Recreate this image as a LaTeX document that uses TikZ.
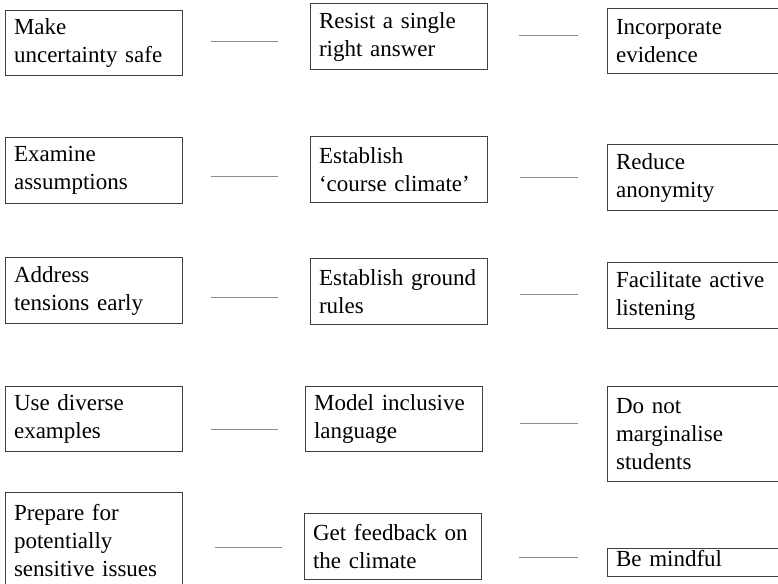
\documentclass[tikz,border=0pt]{standalone}
\usepackage{fontspec}
\setmainfont{Liberation Serif}
\usepackage{xcolor}
\usetikzlibrary{positioning}
\definecolor{BoxEdge}{HTML}{404040}
\definecolor{RuleGray}{HTML}{8C8C8C}

\begin{document}
\begin{tikzpicture}[x=1pt, y=-1pt,
  box/.style={draw=BoxEdge, line width=1.1pt, anchor=north west, align=left,
    text width=160pt, inner xsep=8.5pt, inner ysep=2pt, minimum height=#1,
    font=\fontsize{23}{28}\selectfont},
  box/.default=66pt,
  blank/.style={draw=RuleGray, line width=0.9pt}]
  \useasboundingbox (0,0) rectangle (778,583);
  \node[box=65pt] (safe)    at (5,10)  {Make\\uncertainty safe};
  \node[box]      (assume)  at (5,137) {Examine\\assumptions};
  \node[box]      (tension) at (5,257) {Address\\tensions early};
  \node[box=65pt] (diverse) at (5,386) {Use diverse\\examples};
  \node[box=95pt] (prepare) at (5,492) {Prepare for\\potentially\\sensitive issues};
  \node[box]      (resist)  at (310,3)   {Resist a single\\right answer};
  \node[box]      (climate) at (310,136) {Establish\\‘course climate’};
  \node[box]      (ground)  at (310,258) {Establish ground\\rules};
  \node[box=65pt] (model)   at (305,386) {Model inclusive\\language};
  \node[box]      (feedback) at (304,513) {Get feedback on\\the climate};
  \node[box=65pt] (evidence) at (607,8)   {Incorporate\\evidence};
  \node[box]      (anon)     at (607,144) {Reduce\\anonymity};
  \node[box]      (listen)   at (607,262) {Facilitate active\\listening};
  \node[box=95pt] (margin)   at (607,386) {Do not\\marginalise\\students};
  \node[box=28pt, text depth=8pt, inner ysep=1pt] (mindful) at (607,548) {Be mindful};
  \foreach \x/\y/\w [count=\i] in {211/41/67, 211/176/67, 211/297/67, 211/429/67, 215/547/67,
      519/35/59, 520/177/58, 520/294/58, 520/423/58, 519/557/59}{
    \coordinate (gap\i) at (\x,\y);
    \draw[blank] (gap\i) -- ++(\w,0);}
\end{tikzpicture}
\end{document}
